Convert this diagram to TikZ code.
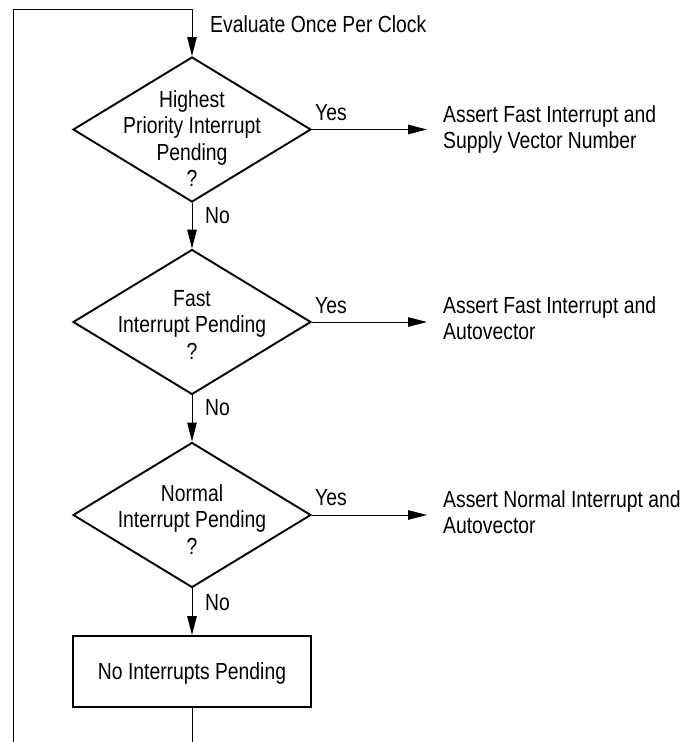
\documentclass[tikz,border=0pt]{standalone}
\usepackage{fontspec}
\setmainfont{Liberation Sans}[FakeStretch=0.83]
\usetikzlibrary{shapes.geometric,arrows.meta}
\newcommand\diagfont{\fontsize{23.3}{26.5}\selectfont}
\begin{document}
\begin{tikzpicture}[x=1pt,y=-1pt,
  decision/.style={draw,diamond,line width=1.9pt,minimum width=238pt,
    minimum height=145pt,inner sep=0pt},
  process/.style={draw,rectangle,line width=1.9pt,minimum width=238pt,
    minimum height=71pt,inner sep=0pt,font=\diagfont,text depth=0pt},
  wire/.style={line width=1pt},
  flow/.style={wire,-{Triangle[length=19pt,width=9.5pt]}},
  txt/.style={inner sep=0pt,font=\diagfont,align=center},
  note/.style={inner sep=0pt,font=\diagfont,align=left,anchor=north west},
  lbl/.style={inner sep=0pt,font=\diagfont,anchor=base west}]
\useasboundingbox (0,0) rectangle (686,742);

% decisions
\node[decision] (d1) at (192,129.5) {};
\node[decision] (d2) at (192,322) {};
\node[decision] (d3) at (192,515) {};
\node[process]  (np) at (192,671.5) {No Interrupts Pending};

% questions inside the diamonds
\node[txt] (q1) at (192,138.5) {Highest\\Priority Interrupt\\Pending\\?};
\node[txt] (q2) at (192,324.5) {Fast\\Interrupt Pending\\?};
\node[txt] (q3) at (192,519.5) {Normal\\Interrupt Pending\\?};

% actions
\node[note] (a1) at (443,105) {Assert Fast Interrupt and\\Supply Vector Number};
\node[note] (a2) at (443,296) {Assert Fast Interrupt and\\Autovector};
\node[note] (a3) at (443,490) {Assert Normal Interrupt and\\Autovector};

% loop back once per clock
\coordinate (exitpt) at (192,742);
\coordinate (loopbot) at (13,742);
\coordinate (looptop) at (13,9);
\coordinate (entry) at (192,9);
\node[lbl] (eval) at (210,32) {Evaluate Once Per Clock};

\draw[flow] (loopbot) -- (looptop) -- (entry) -- (d1.north);
\draw[wire] (np.south) -- (exitpt);

% "No" branches
\draw[flow] (d1.south) -- (d2.north);
\draw[flow] (d2.south) -- (d3.north);
\draw[flow] (d3.south) -- (np.north);
\node[lbl] (no1) at (205,223) {No};
\node[lbl] (no2) at (205,415) {No};
\node[lbl] (no3) at (205,610) {No};

% "Yes" branches
\draw[flow,shorten >=16pt] (d1.east) -- (d1.east -| a1.west);
\draw[flow,shorten >=16pt] (d2.east) -- (d2.east -| a2.west);
\draw[flow,shorten >=16pt] (d3.east) -- (d3.east -| a3.west);
\node[lbl] (y1) at (315,120) {Yes};
\node[lbl] (y2) at (315,313) {Yes};
\node[lbl] (y3) at (315,505) {Yes};
\end{tikzpicture}
\end{document}
